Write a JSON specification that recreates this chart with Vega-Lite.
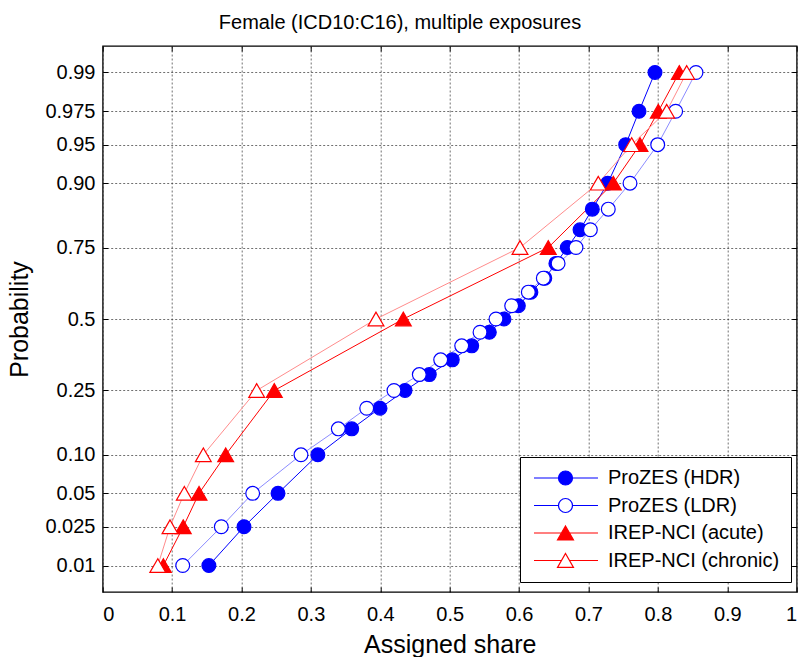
{
  "$schema": "https://vega.github.io/schema/vega-lite/v6.json",
  "autosize": "none",
  "width": 694,
  "height": 546,
  "padding": {"left": 102.7, "top": 46, "right": 3.3, "bottom": 65},
  "background": "white",
  "title": {
    "text": "Female (ICD10:C16), multiple exposures",
    "font": "Liberation Sans",
    "fontSize": 20,
    "fontWeight": "normal",
    "color": "black",
    "anchor": "middle",
    "dx": -49.7,
    "baseline": "alphabetic",
    "offset": -3.5
  },
  "config": {
    "view": {"stroke": "black", "strokeWidth": 1.3},
    "axis": {
      "domain": false,
      "labelFont": "Liberation Sans",
      "labelFontSize": 20,
      "labelColor": "black",
      "titleFont": "Liberation Sans",
      "titleFontSize": 25,
      "titleFontWeight": "normal",
      "titleColor": "black",
      "tickColor": "black",
      "tickSize": -5,
      "tickWidth": 1,
      "gridColor": "#333333",
      "gridOpacity": 0.7,
      "gridDash": [2, 2],
      "gridWidth": 1
    }
  },
  "data": {
    "values": [
      {"series": "ProZES (HDR)", "p": 0.01, "share": 0.153},
      {"series": "ProZES (HDR)", "p": 0.025, "share": 0.2036},
      {"series": "ProZES (HDR)", "p": 0.05, "share": 0.2526},
      {"series": "ProZES (HDR)", "p": 0.1, "share": 0.31},
      {"series": "ProZES (HDR)", "p": 0.15, "share": 0.3588},
      {"series": "ProZES (HDR)", "p": 0.2, "share": 0.3996},
      {"series": "ProZES (HDR)", "p": 0.25, "share": 0.4356},
      {"series": "ProZES (HDR)", "p": 0.3, "share": 0.4706},
      {"series": "ProZES (HDR)", "p": 0.35, "share": 0.5037},
      {"series": "ProZES (HDR)", "p": 0.4, "share": 0.5317},
      {"series": "ProZES (HDR)", "p": 0.45, "share": 0.5571},
      {"series": "ProZES (HDR)", "p": 0.5, "share": 0.5782},
      {"series": "ProZES (HDR)", "p": 0.55, "share": 0.5989},
      {"series": "ProZES (HDR)", "p": 0.6, "share": 0.617},
      {"series": "ProZES (HDR)", "p": 0.65, "share": 0.637},
      {"series": "ProZES (HDR)", "p": 0.7, "share": 0.653},
      {"series": "ProZES (HDR)", "p": 0.75, "share": 0.6695},
      {"series": "ProZES (HDR)", "p": 0.8, "share": 0.6878},
      {"series": "ProZES (HDR)", "p": 0.85, "share": 0.7055},
      {"series": "ProZES (HDR)", "p": 0.9, "share": 0.7277},
      {"series": "ProZES (HDR)", "p": 0.95, "share": 0.7536},
      {"series": "ProZES (HDR)", "p": 0.975, "share": 0.7728},
      {"series": "ProZES (HDR)", "p": 0.99, "share": 0.7958},
      {"series": "ProZES (LDR)", "p": 0.01, "share": 0.1153},
      {"series": "ProZES (LDR)", "p": 0.025, "share": 0.1709},
      {"series": "ProZES (LDR)", "p": 0.05, "share": 0.2161},
      {"series": "ProZES (LDR)", "p": 0.1, "share": 0.2857},
      {"series": "ProZES (LDR)", "p": 0.15, "share": 0.3395},
      {"series": "ProZES (LDR)", "p": 0.2, "share": 0.3804},
      {"series": "ProZES (LDR)", "p": 0.25, "share": 0.4197},
      {"series": "ProZES (LDR)", "p": 0.3, "share": 0.4562},
      {"series": "ProZES (LDR)", "p": 0.35, "share": 0.487},
      {"series": "ProZES (LDR)", "p": 0.4, "share": 0.5173},
      {"series": "ProZES (LDR)", "p": 0.45, "share": 0.5437},
      {"series": "ProZES (LDR)", "p": 0.5, "share": 0.5667},
      {"series": "ProZES (LDR)", "p": 0.55, "share": 0.5893},
      {"series": "ProZES (LDR)", "p": 0.6, "share": 0.6133},
      {"series": "ProZES (LDR)", "p": 0.65, "share": 0.6349},
      {"series": "ProZES (LDR)", "p": 0.7, "share": 0.6562},
      {"series": "ProZES (LDR)", "p": 0.75, "share": 0.682},
      {"series": "ProZES (LDR)", "p": 0.8, "share": 0.7027},
      {"series": "ProZES (LDR)", "p": 0.85, "share": 0.7285},
      {"series": "ProZES (LDR)", "p": 0.9, "share": 0.7598},
      {"series": "ProZES (LDR)", "p": 0.95, "share": 0.7997},
      {"series": "ProZES (LDR)", "p": 0.975, "share": 0.8256},
      {"series": "ProZES (LDR)", "p": 0.99, "share": 0.8549},
      {"series": "IREP-NCI (acute)", "p": 0.01, "share": 0.0874},
      {"series": "IREP-NCI (acute)", "p": 0.025, "share": 0.1161},
      {"series": "IREP-NCI (acute)", "p": 0.05, "share": 0.1388},
      {"series": "IREP-NCI (acute)", "p": 0.1, "share": 0.1772},
      {"series": "IREP-NCI (acute)", "p": 0.25, "share": 0.2473},
      {"series": "IREP-NCI (acute)", "p": 0.5, "share": 0.4332},
      {"series": "IREP-NCI (acute)", "p": 0.75, "share": 0.6421},
      {"series": "IREP-NCI (acute)", "p": 0.9, "share": 0.7358},
      {"series": "IREP-NCI (acute)", "p": 0.95, "share": 0.7742},
      {"series": "IREP-NCI (acute)", "p": 0.975, "share": 0.8006},
      {"series": "IREP-NCI (acute)", "p": 0.99, "share": 0.8309},
      {"series": "IREP-NCI (chronic)", "p": 0.01, "share": 0.0794},
      {"series": "IREP-NCI (chronic)", "p": 0.025, "share": 0.097},
      {"series": "IREP-NCI (chronic)", "p": 0.05, "share": 0.1176},
      {"series": "IREP-NCI (chronic)", "p": 0.1, "share": 0.145},
      {"series": "IREP-NCI (chronic)", "p": 0.25, "share": 0.2219},
      {"series": "IREP-NCI (chronic)", "p": 0.5, "share": 0.3938},
      {"series": "IREP-NCI (chronic)", "p": 0.75, "share": 0.6013},
      {"series": "IREP-NCI (chronic)", "p": 0.9, "share": 0.7141},
      {"series": "IREP-NCI (chronic)", "p": 0.95, "share": 0.7622},
      {"series": "IREP-NCI (chronic)", "p": 0.975, "share": 0.8127},
      {"series": "IREP-NCI (chronic)", "p": 0.99, "share": 0.8415}
    ]
  },
  "transform": [{"calculate": "quantileNormal(datum.p)", "as": "z"}],
  "layer": [
    {
      "encoding": {
        "x": {
          "field": "share", "type": "quantitative",
          "scale": {"domain": [0, 1], "nice": false, "zero": false},
          "axis": {
            "orient": "bottom",
            "title": "Assigned share",
            "values": [0, 0.1, 0.2, 0.3, 0.4, 0.5, 0.6, 0.7, 0.8, 0.9, 1],
            "format": ".1~f",
            "labelPadding": 17,
            "titlePadding": 8,
            "grid": true
          }
        },
        "y": {
          "field": "z", "type": "quantitative",
          "scale": {"domain": [-2.5758, 2.5758], "nice": false, "zero": false},
          "axis": {
            "orient": "left",
            "title": "Probability",
            "values": [-2.326348, -1.959964, -1.644854, -1.281552, -0.67449, 0, 0.67449, 1.281552, 1.644854, 1.959964, 2.326348],
            "labelExpr": "abs(abs(datum.value) - 1.281552) < 0.01 ? format(cumulativeNormal(datum.value), '.2f') : format(cumulativeNormal(datum.value), '.3~f')",
            "labelPadding": 12.7,
            "titlePadding": 12,
            "grid": true
          }
        }
      },
      "layer": [
        {
          "mark": {"type": "line", "strokeWidth": 1},
          "encoding": {
            "color": {
              "field": "series", "type": "nominal",
              "scale": {
                "domain": ["ProZES (HDR)", "ProZES (LDR)", "IREP-NCI (acute)", "IREP-NCI (chronic)"],
                "range": ["#0000ff", "#8c8cff", "#ff0000", "#ff8c8c"]
              },
              "legend": null
            },
            "order": {"field": "p", "type": "quantitative"}
          }
        },
        {
          "transform": [{"filter": "indexof(datum.series, 'ProZES') === 0"}],
          "mark": {"type": "point", "shape": "circle", "size": 190, "strokeWidth": 1.2, "opacity": 1, "filled": false},
          "encoding": {
            "stroke": {
              "field": "series", "type": "nominal",
              "scale": {
                "domain": ["ProZES (HDR)", "ProZES (LDR)", "IREP-NCI (acute)", "IREP-NCI (chronic)"],
                "range": ["#0000ff", "#0000ff", "#ff0000", "#ff0000"]
              },
              "legend": null
            },
            "fill": {
              "field": "series", "type": "nominal",
              "scale": {
                "domain": ["ProZES (HDR)", "ProZES (LDR)", "IREP-NCI (acute)", "IREP-NCI (chronic)"],
                "range": ["#0000ff", "#ffffff", "#ff0000", "#ffffff"]
              },
              "legend": null
            }
          }
        },
        {
          "transform": [{"filter": "indexof(datum.series, 'IREP') === 0"}],
          "mark": {"type": "point", "shape": "triangle-up", "size": 250, "strokeWidth": 1.2, "opacity": 1, "filled": false},
          "encoding": {
            "stroke": {
              "field": "series", "type": "nominal",
              "scale": {
                "domain": ["ProZES (HDR)", "ProZES (LDR)", "IREP-NCI (acute)", "IREP-NCI (chronic)"],
                "range": ["#0000ff", "#0000ff", "#ff0000", "#ff0000"]
              },
              "legend": null
            },
            "fill": {
              "field": "series", "type": "nominal",
              "scale": {
                "domain": ["ProZES (HDR)", "ProZES (LDR)", "IREP-NCI (acute)", "IREP-NCI (chronic)"],
                "range": ["#0000ff", "#ffffff", "#ff0000", "#ffffff"]
              },
              "legend": null
            }
          }
        }
      ]
    },
    {
      "mark": {"type": "point", "opacity": 0, "filled": false},
      "encoding": {
        "x": {
          "field": "share", "type": "quantitative",
          "axis": {
            "orient": "top", "labels": false, "title": null, "grid": false,
            "values": [0, 0.1, 0.2, 0.3, 0.4, 0.5, 0.6, 0.7, 0.8, 0.9, 1]
          }
        },
        "y": {
          "field": "z", "type": "quantitative",
          "axis": {
            "orient": "right", "labels": false, "title": null, "grid": false,
            "values": [-2.326348, -1.959964, -1.644854, -1.281552, -0.67449, 0, 0.67449, 1.281552, 1.644854, 1.959964, 2.326348]
          }
        },
        "stroke": {
          "field": "series", "type": "nominal",
          "scale": {
            "domain": ["ProZES (HDR)", "ProZES (LDR)", "IREP-NCI (acute)", "IREP-NCI (chronic)"],
            "range": ["#0000ff", "#0000ff", "#ff0000", "#ff0000"]
          },
          "legend": {
            "title": null,
            "orient": "none",
            "legendX": 417.3,
            "legendY": 411,
            "padding": 11,
            "strokeColor": "black",
            "fillColor": "white",
            "labelFont": "Liberation Sans",
            "labelFontSize": 20,
            "labelColor": "black",
            "labelLimit": 0,
            "labelOffset": 57,
            "symbolSize": 196,
            "symbolStrokeWidth": 1.2,
            "symbolOpacity": 1,
            "rowPadding": 7.5
          }
        },
        "fill": {
          "field": "series", "type": "nominal",
          "scale": {
            "domain": ["ProZES (HDR)", "ProZES (LDR)", "IREP-NCI (acute)", "IREP-NCI (chronic)"],
            "range": ["#0000ff", "#ffffff", "#ff0000", "#ffffff"]
          },
          "legend": {
            "title": null,
            "orient": "none",
            "legendX": 417.3,
            "legendY": 411,
            "padding": 11,
            "strokeColor": "black",
            "fillColor": "white",
            "labelFont": "Liberation Sans",
            "labelFontSize": 20,
            "labelColor": "black",
            "labelLimit": 0,
            "labelOffset": 57,
            "symbolSize": 196,
            "symbolStrokeWidth": 1.2,
            "symbolOpacity": 1,
            "rowPadding": 7.5
          }
        },
        "shape": {
          "field": "series", "type": "nominal",
          "scale": {
            "domain": ["ProZES (HDR)", "ProZES (LDR)", "IREP-NCI (acute)", "IREP-NCI (chronic)"],
            "range": [
              "M-1,0H2.5M4.5,0H8.14M4.5,0A1,1,0,1,1,2.5,0A1,1,0,1,1,4.5,0Z",
              "M-1,0H2.5M4.5,0H8.14M4.5,0A1,1,0,1,1,2.5,0A1,1,0,1,1,4.5,0Z",
              "M-1,0H2.93M4.07,0H8.14M3.5,-0.99L4.64,0.99L2.36,0.99Z",
              "M-1,0H2.93M4.07,0H8.14M3.5,-0.99L4.64,0.99L2.36,0.99Z"
            ]
          },
          "legend": {
            "title": null,
            "orient": "none",
            "legendX": 417.3,
            "legendY": 411,
            "padding": 11,
            "strokeColor": "black",
            "fillColor": "white",
            "labelFont": "Liberation Sans",
            "labelFontSize": 20,
            "labelColor": "black",
            "labelLimit": 0,
            "labelOffset": 57,
            "symbolSize": 196,
            "symbolStrokeWidth": 1.2,
            "symbolOpacity": 1,
            "rowPadding": 7.5
          }
        }
      }
    }
  ],
  "resolve": {
    "axis": {"x": "independent", "y": "independent"},
    "legend": {"color": "independent", "stroke": "independent", "fill": "independent", "shape": "independent"}
  }
}
